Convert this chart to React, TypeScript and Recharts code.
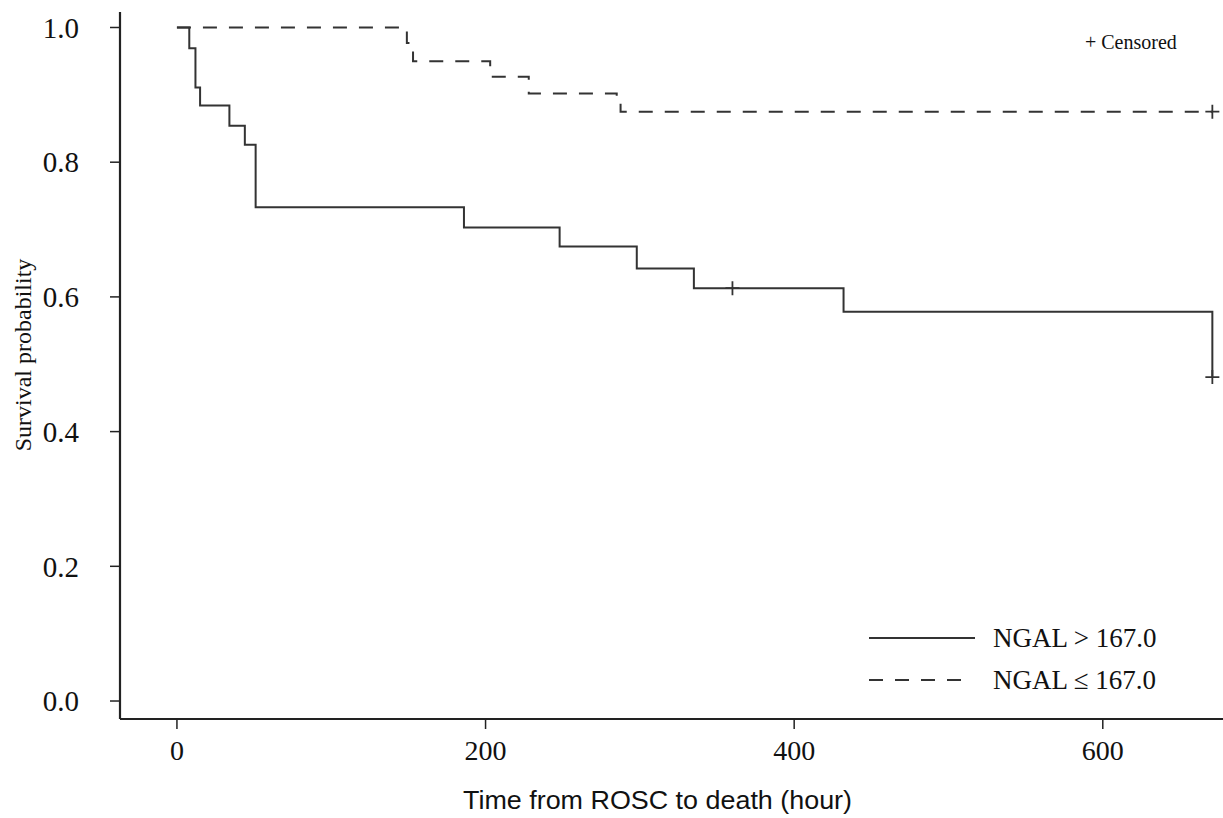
import React from "react";
import {
  LineChart,
  Line,
  XAxis,
  YAxis,
  Scatter,
  Customized,
} from "recharts";

// Kaplan-Meier step data (time in hours, survival probability)
const highTimes = [0, 8, 12, 15, 34, 44, 51, 186, 248, 298, 335, 432, 671];
const highSurv = [1.0, 0.969, 0.911, 0.884, 0.854, 0.826, 0.733, 0.703, 0.675, 0.642, 0.613, 0.578, 0.481];

const lowTimes = [0, 149, 153, 203, 228, 285, 287.5, 671];
const lowSurv = [1.0, 0.977, 0.95, 0.927, 0.902, 0.888, 0.875, 0.875];

// censored observations
const highCensorTimes = [360, 671];
const highCensorSurv = [0.613, 0.481];
const lowCensorTimes = [671];
const lowCensorSurv = [0.875];

const xTicks = [0, 200, 400, 600];
const yTicks = [0, 0.2, 0.4, 0.6, 0.8, 1.0];
const xDomain = [-36.9, 677.9];
const yDomain = [-0.0267, 1.023];

const seriesNames = ["NGAL > 167.0", "NGAL \u2264 167.0"];
const censorLabel = "+ Censored";
const xTitle = "Time from ROSC to death (hour)";
const yTitle = "Survival probability";

const highData = highTimes.map((t, i) => ({ t, s: highSurv[i] }));
const lowData = lowTimes.map((t, i) => ({ t, s: lowSurv[i] }));
const highCensor = highCensorTimes.map((t, i) => ({ t, s: highCensorSurv[i] }));
const lowCensor = lowCensorTimes.map((t, i) => ({ t, s: lowCensorSurv[i] }));

const SERIF = "'Liberation Serif', 'Times New Roman', serif";
const SANS = "'Liberation Sans', Arial, sans-serif";
const LINE = "#333";
const AXIS = "#222";
const DASH = "14 12";

const PlusShape = (props: any) => {
  const { cx, cy } = props;
  if (cx == null || cy == null) return null;
  return (
    <path
      d={`M${cx - 7},${cy} L${cx + 7},${cy} M${cx},${cy - 7} L${cx},${cy + 7}`}
      stroke={LINE}
      strokeWidth={1.8}
      fill="none"
    />
  );
};

const Overlay = () => (
  <g>
    <text x={1085} y={49} fontFamily={SERIF} fontSize={20} fill="#111">
      {censorLabel}
    </text>
    <line x1={869} y1={638} x2={975} y2={638} stroke={LINE} strokeWidth={1.8} />
    <line x1={869} y1={680} x2={969} y2={680} stroke={LINE} strokeWidth={1.8} strokeDasharray={DASH} />
    <text x={993} y={647} fontFamily={SERIF} fontSize={27} fill="#111">
      {seriesNames[0]}
    </text>
    <text x={993} y={689} fontFamily={SERIF} fontSize={27} fill="#111">
      {seriesNames[1]}
    </text>
    <text
      x={463}
      y={809}
      fontFamily={SANS}
      fontSize={26}
      textLength={389}
      lengthAdjust="spacingAndGlyphs"
      fill="#111"
    >
      {xTitle}
    </text>
    <text
      x={0}
      y={0}
      transform="translate(31,355) rotate(-90)"
      textAnchor="middle"
      fontFamily={SERIF}
      fontSize={24}
      fill="#111"
    >
      {yTitle}
    </text>
  </g>
);

export default function App() {
  return (
    <div style={{ position: "absolute", left: 0, top: 0, width: 1223, height: 818, background: "#fff" }}>
      <LineChart
        width={1223}
        height={818}
        margin={{ top: 12, right: 0, left: 0, bottom: 0 }}
      >
        <XAxis
          xAxisId="main"
          dataKey="t"
          type="number"
          domain={xDomain}
          allowDataOverflow
          ticks={xTicks}
          height={99}
          tickSize={10}
          tickMargin={11}
          axisLine={{ stroke: AXIS, strokeWidth: 2.2 }}
          tickLine={{ stroke: AXIS, strokeWidth: 1.5 }}
          tick={{ fontFamily: SERIF, fontSize: 28, fill: "#111" }}
        />
        <XAxis
          xAxisId="top"
          orientation="top"
          dataKey="t"
          type="number"
          domain={xDomain}
          allowDataOverflow
          height={0}
          tick={false}
          tickLine={false}
          axisLine={{ stroke: AXIS, strokeWidth: 2.2 }}
        />
        <YAxis
          yAxisId="main"
          dataKey="s"
          type="number"
          domain={yDomain}
          allowDataOverflow
          ticks={yTicks}
          width={120}
          tickSize={10}
          tickMargin={31}
          tickFormatter={(v: number) => v.toFixed(1)}
          axisLine={{ stroke: AXIS, strokeWidth: 2.2 }}
          tickLine={{ stroke: AXIS, strokeWidth: 1.5 }}
          tick={{ fontFamily: SERIF, fontSize: 29, fill: "#111" }}
        />
        <Line
          xAxisId="main"
          yAxisId="main"
          data={highData}
          dataKey="s"
          type="stepAfter"
          stroke={LINE}
          strokeWidth={2}
          dot={false}
          activeDot={false}
          isAnimationActive={false}
        />
        <Line
          xAxisId="main"
          yAxisId="main"
          data={lowData}
          dataKey="s"
          type="stepAfter"
          stroke={LINE}
          strokeWidth={2}
          strokeDasharray={DASH}
          dot={false}
          activeDot={false}
          isAnimationActive={false}
        />
        <Scatter
          xAxisId="main"
          yAxisId="main"
          data={highCensor}
          dataKey="s"
          shape={PlusShape}
          isAnimationActive={false}
        />
        <Scatter
          xAxisId="main"
          yAxisId="main"
          data={lowCensor}
          dataKey="s"
          shape={PlusShape}
          isAnimationActive={false}
        />
        <Customized component={Overlay} />
      </LineChart>
    </div>
  );
}
